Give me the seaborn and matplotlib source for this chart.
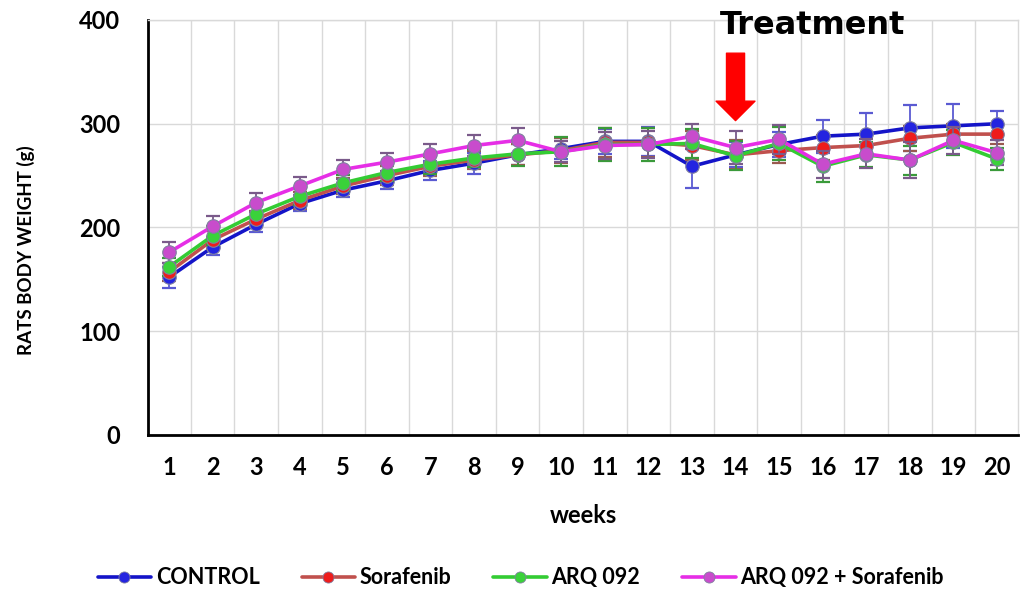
import matplotlib
matplotlib.use("Agg")
import matplotlib.pyplot as plt
import numpy as np
import pandas as pd
import seaborn as sns
from matplotlib.lines import Line2D
from matplotlib.ticker import MultipleLocator

weeks = list(range(1, 21))
groups = ["CONTROL", "Sorafenib", "ARQ 092", "ARQ 092 + Sorafenib"]

control = [152, 181, 203, 223, 236, 245, 255, 262, 270, 276, 283, 283, 259, 270, 280, 288, 290, 296, 298, 300]
sorafenib = [157, 188, 208, 226, 240, 250, 259, 265, 270, 274, 282, 282, 279, 270, 274, 277, 279, 286, 290, 290]
arq = [162, 192, 213, 230, 243, 253, 261, 267, 271, 273, 280, 280, 281, 269, 281, 259, 270, 265, 282, 266]
arq_sor = [176, 201, 224, 240, 256, 263, 271, 279, 284, 273, 279, 280, 288, 277, 285, 261, 271, 265, 284, 272]

control_err = [10, 8, 7, 7, 7, 8, 9, 10, 10, 10, 12, 14, 21, 12, 12, 16, 20, 22, 21, 12]
sorafenib_err = [9, 9, 8, 8, 8, 9, 9, 9, 10, 12, 14, 14, 14, 14, 12, 12, 10, 12, 10, 10]
arq_err = [9, 9, 8, 8, 8, 8, 9, 9, 12, 14, 16, 16, 14, 14, 16, 15, 12, 14, 12, 11]
arq_sor_err = [10, 10, 9, 9, 9, 9, 9, 10, 12, 10, 13, 13, 12, 16, 14, 13, 14, 17, 13, 12]

line_colors = ["#1414c8", "#c0504d", "#33cc33", "#e62ee6"]
marker_colors = ["#2424e0", "#ee1c1c", "#3ad23a", "#c84ccc"]
err_colors = ["#5a5ad2", "#9a5a50", "#3a9a3a", "#7a5a8a"]

df = pd.DataFrame({
    "week": weeks * 4,
    "group": np.repeat(groups, len(weeks)),
    "weight": control + sorafenib + arq + arq_sor,
    "err": control_err + sorafenib_err + arq_err + arq_sor_err,
})

sns.set_theme(style="white")
plt.rcParams["font.family"] = ["Lato", "DejaVu Sans"]
plt.rcParams["text.color"] = "black"

fig = plt.figure(figsize=(10.21, 5.97), dpi=100)
ax = fig.add_axes([0.145, 0.2714, 0.852, 0.6951])

for i, g in enumerate(groups):
    sub = df[df["group"] == g]
    ax.errorbar(sub["week"], sub["weight"], yerr=sub["err"], fmt="none",
                ecolor=err_colors[i], elinewidth=1.3, capsize=5, capthick=1.6,
                zorder=2 + i)
    sns.lineplot(data=sub, x="week", y="weight", color=line_colors[i],
                 linewidth=2.6, ax=ax, zorder=3 + i, legend=False)
    sns.scatterplot(data=sub, x="week", y="weight", color=marker_colors[i],
                    s=95, edgecolor="#8080a0", linewidth=0.8, ax=ax,
                    zorder=3.5 + i, legend=False)

ax.set_xlim(0.52, 20.48)
ax.set_ylim(0, 400)
ax.set_xticks(weeks)
ax.xaxis.set_minor_locator(MultipleLocator(1, offset=0.5))
ax.yaxis.set_major_locator(MultipleLocator(100))
ax.grid(True, which="minor", axis="x", color="#d9d9d9", linewidth=1)
ax.grid(True, which="major", axis="y", color="#d9d9d9", linewidth=1)
ax.set_axisbelow(True)
ax.tick_params(axis="both", which="both", length=0, labelcolor="black")
ax.tick_params(axis="y", labelsize=17, pad=20)
ax.tick_params(axis="x", labelsize=17, pad=15)
for lab in ax.get_xticklabels() + ax.get_yticklabels():
    lab.set_fontweight("bold")

for side in ["left", "bottom"]:
    ax.spines[side].set_color("black")
    ax.spines[side].set_linewidth(2)
for side in ["top", "right"]:
    ax.spines[side].set_color("#d9d9d9")
    ax.spines[side].set_linewidth(1)

ax.set_xlabel("weeks", fontsize=17, fontweight="bold", labelpad=18, color="black")
ax.set_ylabel("RATS BODY WEIGHT (g)", fontsize=13.5, fontweight="bold", color="black")
ax.yaxis.set_label_coords(-0.1295, 0.446)

# treatment arrow at week 14
ax.annotate("", xy=(14, 303), xytext=(14, 368),
            arrowprops=dict(facecolor="#ff0000", edgecolor="#ff0000",
                            width=13, headwidth=28, headlength=14),
            annotation_clip=False, zorder=10)
ax.text(15.77, 395, "Treatment", fontsize=23, fontweight="heavy",
        family="DejaVu Sans", ha="center", va="center", zorder=10)

handles = [
    Line2D([0], [0], color=line_colors[i], linewidth=2.6, marker="o",
           markersize=8, markerfacecolor=marker_colors[i],
           markeredgecolor="#8080a0", markeredgewidth=0.6)
    for i in range(len(groups))
]
fig.legend(handles, groups, loc="center", bbox_to_anchor=(0.51, 0.032), ncol=4,
           frameon=False, handlelength=2.5, handletextpad=0.2, columnspacing=1.95,
           prop={"size": 15.5, "weight": "bold"})

fig.savefig("out.png", dpi=100)
